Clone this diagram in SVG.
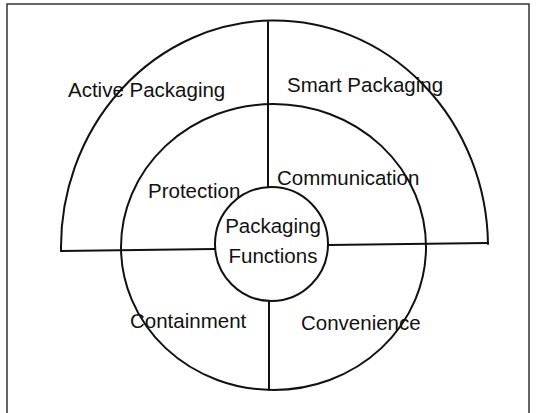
<svg xmlns="http://www.w3.org/2000/svg" width="537" height="413" viewBox="0 0 537 413">
  <style>
    .ln { fill: none; stroke: #111; stroke-width: 2; stroke-linecap: round; }
    .lbl { font-family: "Liberation Sans", Arial, sans-serif; font-size: 20.5px; fill: #111; }
    .frame { fill: #fff; stroke: #333; stroke-width: 1.5; }
  </style>
  <rect class="frame" x="7" y="4" width="522" height="420"/>

  <!-- outer half ring: active / smart packaging -->
  <g id="outer-ring">
    <path class="ln" d="M61,251 A213.5,227 0 0 1 488,244"/>
    <text class="lbl" x="68" y="97">Active Packaging</text>
    <text class="lbl" x="287" y="92">Smart Packaging</text>
  </g>

  <!-- middle ring: the four functions -->
  <g id="function-ring">
    <ellipse class="ln" cx="273.5" cy="247" rx="152.5" ry="143"/>
    <text class="lbl" x="148" y="198">Protection</text>
    <text class="lbl" x="277" y="185">Communication</text>
    <text class="lbl" x="130" y="328">Containment</text>
    <text class="lbl" x="301" y="330">Convenience</text>
  </g>

  <!-- centre -->
  <g id="center">
    <ellipse class="ln" cx="271.5" cy="244" rx="56.5" ry="57"/>
    <text class="lbl" x="273" y="233" text-anchor="middle">Packaging</text>
    <text class="lbl" x="273" y="263" text-anchor="middle">Functions</text>
  </g>

  <!-- dividing lines -->
  <g id="connectors">
    <line class="ln" x1="268" y1="22" x2="268" y2="187"/>
    <line class="ln" x1="269" y1="301" x2="269" y2="390"/>
    <line class="ln" x1="61" y1="251" x2="215" y2="249"/>
    <line class="ln" x1="328" y1="245" x2="488" y2="243"/>
  </g>
</svg>
